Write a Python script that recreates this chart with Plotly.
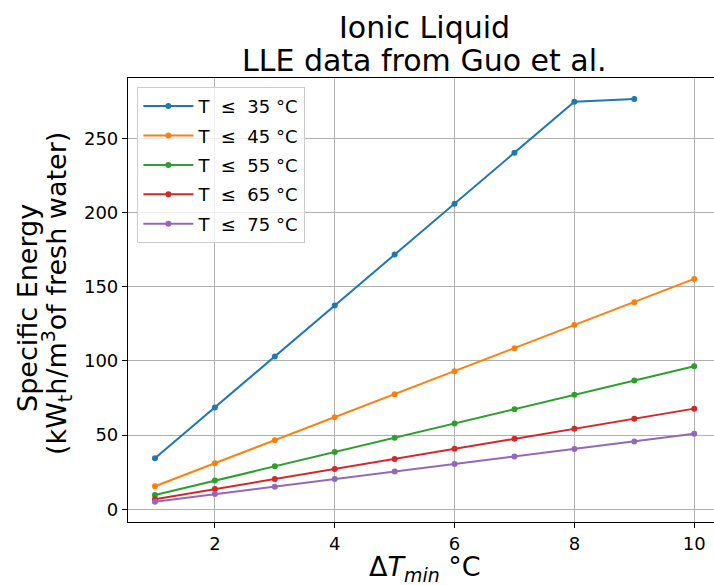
import plotly.graph_objects as go

dt_min = [1, 2, 3, 4, 5, 6, 7, 8, 9, 10]
series_names = ["T \u00a0≤ \u00a035 °C", "T \u00a0≤ \u00a045 °C", "T \u00a0≤ \u00a055 °C",
                "T \u00a0≤ \u00a065 °C", "T \u00a0≤ \u00a075 °C"]
t35 = [34.3, 68.6, 103.0, 137.3, 171.6, 205.9, 240.2, 274.6, 276.5]
t45 = [15.5, 31.0, 46.5, 62.0, 77.5, 93.0, 108.5, 124.2, 139.5, 155.2]
t55 = [9.6, 19.3, 28.9, 38.5, 48.2, 57.8, 67.4, 77.1, 86.7, 96.4]
t65 = [6.8, 13.6, 20.3, 27.1, 33.9, 40.7, 47.5, 54.2, 61.0, 67.8]
t75 = [5.1, 10.2, 15.2, 20.3, 25.4, 30.5, 35.6, 40.6, 45.7, 50.8]
colors = ["#1f77b4", "#ff7f0e", "#2ca02c", "#d62728", "#9467bd"]
x_ticks = [2, 4, 6, 8, 10]
y_ticks = [0, 50, 100, 150, 200, 250]

FONT = "DejaVu Sans"

fig = go.Figure()
for i, (name, ys) in enumerate(zip(series_names, [t35, t45, t55, t65, t75])):
    fig.add_trace(go.Scatter(
        x=dt_min[:len(ys)], y=ys, mode="lines+markers", name=name,
        legendgroup=f"g{i}",
        line=dict(color=colors[i], width=2),
        marker=dict(color=colors[i], size=6),
    ))

axis_common = dict(
    showgrid=True, gridcolor="#b0b0b0", gridwidth=1,
    showline=True, linecolor="black", linewidth=1.2,
    ticks="outside", ticklen=5, tickwidth=1, tickcolor="black",
    tickfont=dict(family=FONT, size=18, color="black"),
    zeroline=False,
)

def ann(text, x, y, size, xshift=0, yshift=0, angle=0):
    return dict(text=text, xref="paper", yref="paper", x=x, y=y,
                xanchor="center", yanchor="middle", xshift=xshift, yshift=yshift,
                textangle=angle, showarrow=False,
                font=dict(family=FONT, size=size, color="black"))

fig.update_layout(
    width=714, height=585,
    margin=dict(l=128, r=0, t=78, b=63),
    paper_bgcolor="white", plot_bgcolor="white",
    font=dict(family=FONT, color="black"),
    showlegend=True,
    legend=dict(
        x=0.016, y=0.98, xanchor="left", yanchor="top",
        bgcolor="rgba(255,255,255,0.8)", bordercolor="#cccccc", borderwidth=1,
        font=dict(family=FONT, size=18, color="black"),
        tracegroupgap=3, itemwidth=50,
    ),
    xaxis=dict(range=[0.55, 10.33], tickvals=x_ticks, mirror=True, **axis_common),
    yaxis=dict(range=[-8.6, 290.6], tickvals=y_ticks, mirror=False, **axis_common),
    annotations=[
        ann("Ionic Liquid", 0.506, 1, 30, yshift=51),
        ann("LLE data from Guo et al.", 0.506, 1, 30, yshift=18),
        ann("Specific Energy", 0, 0.5, 27, xshift=-101, yshift=-8, angle=-90),
        ann("(kW<sub>t</sub>h/m<sup>3</sup>of fresh water)", 0, 0.5, 27,
            xshift=-72, yshift=6, angle=-90),
        ann("Δ<i>T</i><sub><i>min</i></sub> °C", 0.506, 0, 27, yshift=-46),
    ],
)

fig.write_html("out.html", config={"displayModeBar": False},
               post_script="document.body.style.margin='0';")
